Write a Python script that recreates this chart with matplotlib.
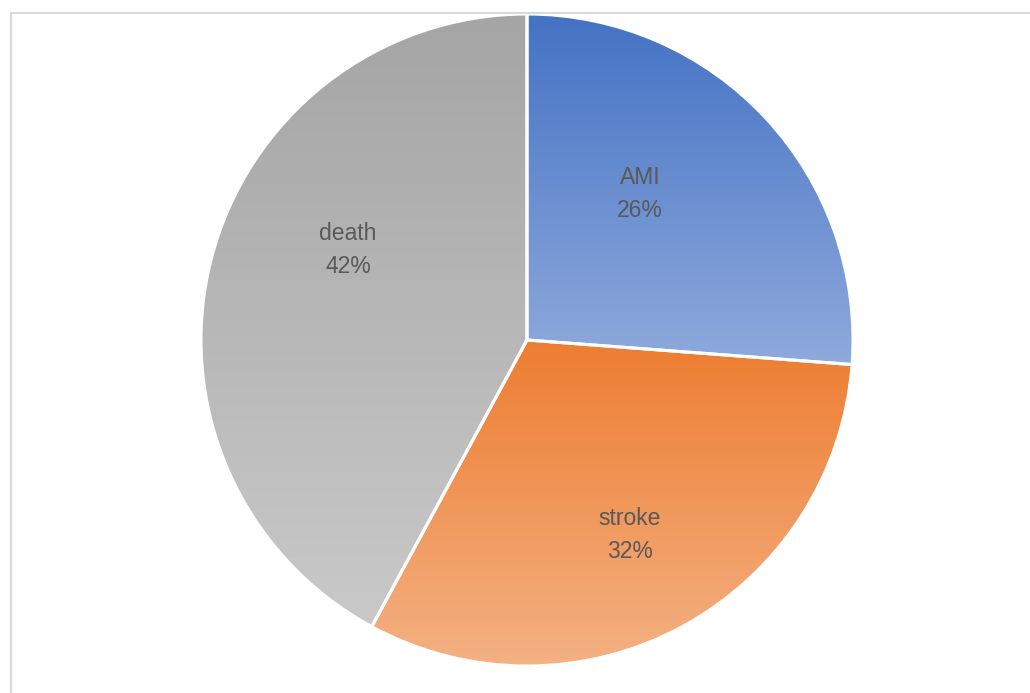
"""Pie chart of outcome shares (AMI / stroke / death) with gradient fills"""

import numpy as np
import matplotlib
matplotlib.use("Agg")
from matplotlib import pyplot as plt
from matplotlib.colors import LinearSegmentedColormap
from matplotlib.lines import Line2D

categories = ["AMI", "stroke", "death"]
shares = [26.2, 31.7, 42.1]
pct_labels = ["26%", "32%", "42%"]

# gradient colours, top -> bottom of each slice
top_colors = ["#4472C4", "#ED7D31", "#A5A5A5"]
bottom_colors = ["#8FAADC", "#F4B183", "#C9C9C9"]

# label spots (data units, pie radius = 1)
label_xy = [(0.347, 0.448), (0.316, -0.598), (-0.549, 0.276)]

fig = plt.figure(figsize=(10.30, 6.93), dpi=100)
ax = fig.add_axes([201 / 1030, 27 / 693, 652 / 1030, 652 / 693])

wedges, _ = ax.pie(shares, startangle=90, counterclock=False, radius=1.0,
                   colors=["none"] * 3,
                   wedgeprops=dict(edgecolor="white", linewidth=2.2))

grad = np.linspace(0, 1, 256).reshape(-1, 1)
for w, c_top, c_bot in zip(wedges, top_colors, bottom_colors):
    ext = w.get_path().get_extents()
    cmap = LinearSegmentedColormap.from_list("g", [c_top, c_bot])
    im = ax.imshow(grad, cmap=cmap, aspect="auto", origin="upper",
                   extent=[ext.x0, ext.x1, ext.y0, ext.y1], zorder=1)
    im.set_clip_path(w)
    w.set_zorder(2)

for (x, y), cat, pct in zip(label_xy, categories, pct_labels):
    ax.text(x, y, f"{cat}\n{pct}", ha="center", va="center", fontsize=16.5,
            color="#595959", family="Liberation Sans", linespacing=1.55,
            zorder=3)

ax.set_xlim(-1.0, 1.0)
ax.set_ylim(-1.0, 1.0)
ax.set_aspect("equal")
ax.axis("off")

# chart area border (left and top edges visible)
border = "#D9D9D9"
fig.add_artist(Line2D([10.5 / 1030, 10.5 / 1030], [0, 1 - 12.5 / 693],
                      color=border, linewidth=1.5))
fig.add_artist(Line2D([10.5 / 1030, 1], [1 - 12.5 / 693, 1 - 12.5 / 693],
                      color=border, linewidth=1.5))

fig.savefig("out.png", dpi=100, facecolor="white")
